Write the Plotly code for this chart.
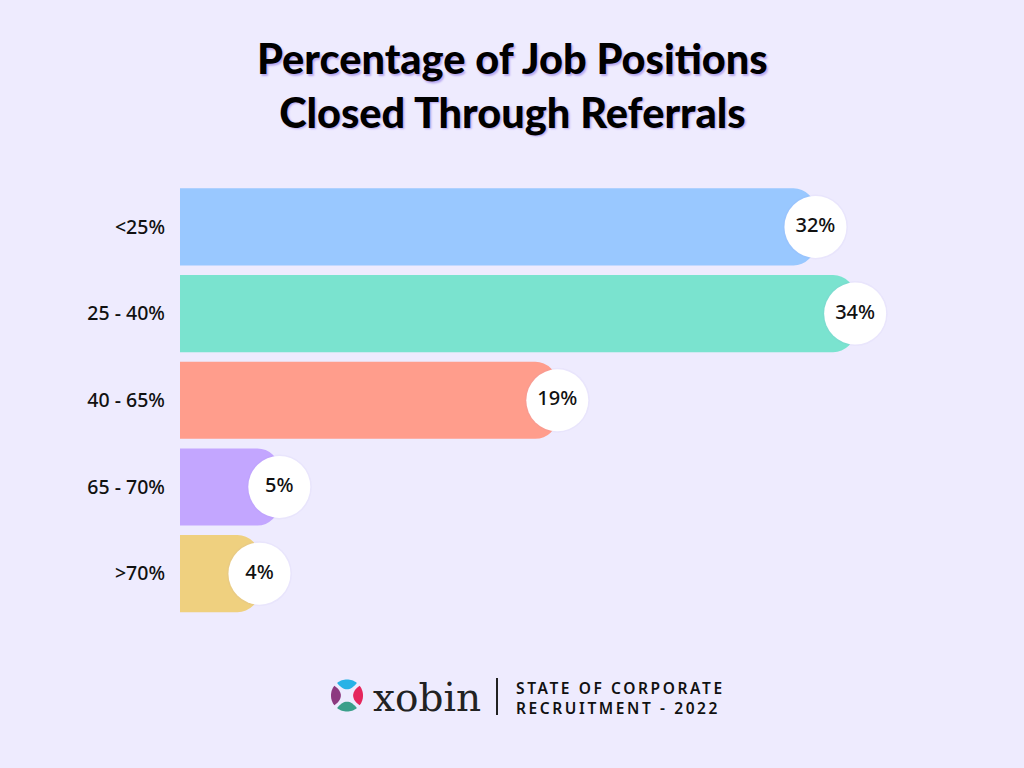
import math
import plotly.graph_objects as go

categories = ["<25%", "25 - 40%", "40 - 65%", "65 - 70%", ">70%"]
values = [32, 34, 19, 5, 4]
labels = ["32%", "34%", "19%", "5%", "4%"]
bar_colors = ["#99C8FF", "#7AE3CF", "#FF9D8C", "#C3A6FF", "#EFD07F"]

BG = "#EEEBFE"
W, H = 1024, 768


def px(x):
    return x / W


def py(y):
    return 1 - y / H


fig = go.Figure()
fig.add_trace(go.Bar(
    y=categories, x=values, orientation="h",
    marker=dict(color=bar_colors, line=dict(width=0), cornerradius=22),
    hoverinfo="skip", showlegend=False,
))
# soft shadow for the circles
fig.add_trace(go.Scatter(
    y=categories, x=values, mode="markers",
    marker=dict(size=65, color="rgba(150,130,220,0.06)", line=dict(width=0)),
    hoverinfo="skip", showlegend=False,
))
fig.add_trace(go.Scatter(
    y=categories, x=values, mode="markers+text",
    text=labels, textposition="middle center",
    textfont=dict(family="Noto Sans", size=20, color="#111111", weight=500),
    marker=dict(size=62, color="white", line=dict(width=0)),
    hoverinfo="skip", showlegend=False,
))

fig.update_layout(
    width=W, height=H,
    paper_bgcolor=BG, plot_bgcolor=BG,
    margin=dict(l=0, r=0, t=0, b=0),
    bargap=0.11,
    xaxis=dict(range=[0, 42], domain=[px(180), px(1014)], visible=False,
               fixedrange=True),
    yaxis=dict(
        categoryorder="array", categoryarray=categories, range=[4.5, -0.5],
        domain=[151 / H, 1 - 183.6 / H], automargin=False,
        showgrid=False, zeroline=False, showline=False, ticks="",
        tickfont=dict(family="Noto Sans", size=19.5, color="#111111", weight=500),
        ticklabelstandoff=14, fixedrange=True,
    ),
)

# title
fig.add_annotation(
    xref="paper", yref="paper", x=0.5, y=py(85), xanchor="center",
    yanchor="middle", showarrow=False, align="center",
    text="Percentage of Job Positions<br>Closed Through Referrals",
    font=dict(family="Lato", size=41.5, color="#000000", weight=900,
              shadow="1.5px 1.5px 2px #b8a8f0"),
)

# footer logo: four petals around a white concave cross
cx, cy, R = 347, 695.5, 16
petal_colors = {90: "#27B2E6", 0: "#E5265C", 270: "#3A9F8A", 180: "#8C3A80"}
half = math.radians(38)
for ang_deg, col in petal_colors.items():
    a = math.radians(ang_deg)
    pts = []
    n = 16
    for i in range(n + 1):
        t = a - half + 2 * half * i / n
        pts.append((cx + R * math.cos(t), cy - R * math.sin(t)))
    p0 = pts[-1]
    p2 = pts[0]
    ctrl_r = -0.02 * R
    c = (cx + ctrl_r * math.cos(a), cy - ctrl_r * math.sin(a))
    for i in range(1, n):
        s = i / n
        bx = (1 - s) ** 2 * p0[0] + 2 * (1 - s) * s * c[0] + s ** 2 * p2[0]
        by = (1 - s) ** 2 * p0[1] + 2 * (1 - s) * s * c[1] + s ** 2 * p2[1]
        pts.append((bx, by))
    path = "M " + " L ".join(f"{px(x):.5f},{py(y):.5f}" for x, y in pts) + " Z"
    fig.add_shape(type="path", xref="paper", yref="paper", path=path,
                  fillcolor=col, line=dict(width=0), layer="above")

fig.add_annotation(xref="paper", yref="paper", x=px(371), y=py(697),
                   xanchor="left", yanchor="middle", showarrow=False,
                   text="xobin",
                   font=dict(family="DejaVu Serif", size=39, color="#222222"))
fig.add_shape(type="line", xref="paper", yref="paper",
              x0=px(497), x1=px(497), y0=py(715), y1=py(678),
              line=dict(color="#222222", width=2))
fig.add_annotation(xref="paper", yref="paper", x=px(514), y=py(697.5),
                   xanchor="left", yanchor="middle", showarrow=False,
                   align="left",
                   text=('<span style="letter-spacing:2.6px">STATE OF CORPORATE</span><br>'
                         '<span style="letter-spacing:2.6px">RECRUITMENT - 2022</span>'),
                   font=dict(family="Noto Sans", size=15.5, color="#111111",
                             weight=600))

fig.write_html("out.html")
